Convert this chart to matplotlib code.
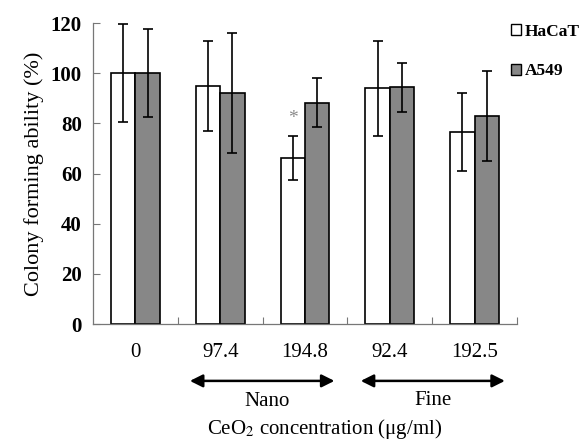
import matplotlib.pyplot as plt
from matplotlib.patches import Patch
import numpy as np

# colony forming ability
doses = ['0', '97.4', '194.8', '92.4', '192.5']
hacat = [100.0, 95.0, 66.3, 93.9, 76.6]
hacat_err = [19.5, 18.0, 8.7, 19.0, 15.5]
a549 = [100.0, 92.2, 88.2, 94.3, 83.0]
a549_err = [17.5, 24.0, 9.8, 9.7, 18.0]

plt.rcParams['font.family'] = 'Liberation Serif'
plt.rcParams['mathtext.fontset'] = 'stix'

fig = plt.figure(figsize=(5.86, 4.4), dpi=100)
ax = fig.add_axes([93/586., 1-324/440., 424/586., 301/440.])

x = np.arange(len(doses)) + 0.5
w = 0.288
ekw = dict(ecolor='k', elinewidth=1.2, capsize=3.5, capthick=1.2)
ax.bar(x - w/2, hacat, w, yerr=hacat_err, color='white', edgecolor='k', linewidth=1.2, error_kw=ekw, zorder=2)
ax.bar(x + w/2, a549, w, yerr=a549_err, color='#878787', edgecolor='k', linewidth=1.2, error_kw=ekw, zorder=2)

# significance mark
ax.text(x[2] - w/2, 82, '*', ha='center', va='center', fontsize=14, color='#8a8a8a')

ax.set_xlim(0, 5)
ax.set_ylim(0, 120)
ax.set_yticks(np.arange(0, 121, 20))
ax.set_yticklabels(['%d' % v for v in np.arange(0, 121, 20)], fontweight='bold', fontsize=15)
ax.set_xticks(x)
ax.set_xticklabels(doses, fontsize=15)
ax.set_xticks(np.arange(1, 6), minor=True)
ax.tick_params(axis='x', which='major', length=0, pad=14)
ax.tick_params(axis='x', which='minor', direction='in', length=5, color='#777777', width=0.8)
ax.tick_params(axis='y', direction='in', length=5, color='#777777', width=0.8, pad=8)
for s in ['top', 'right']:
  ax.spines[s].set_visible(False)
for s in ['left', 'bottom']:
  ax.spines[s].set_color('#777777')
  ax.spines[s].set_linewidth(0.9)
ax.set_ylabel('Colony forming ability (%)', fontsize=16, labelpad=5)

# group arrows under the ticks
trans = ('data', 'axes fraction')
aprops = dict(arrowstyle='<|-|>', color='k', lw=1.8, mutation_scale=19)
ax.annotate('', xy=(1.11, -0.189), xytext=(2.88, -0.189), xycoords=trans, textcoords=trans,
            arrowprops=aprops, annotation_clip=False)
ax.annotate('', xy=(3.125, -0.189), xytext=(4.89, -0.189), xycoords=trans, textcoords=trans,
            arrowprops=aprops, annotation_clip=False)
fig.text(267/586., 1-401/440., 'Nano', ha='center', va='center', fontsize=15)
fig.text(433/586., 1-400/440., 'Fine', ha='center', va='center', fontsize=15)
fig.text(325/586., 1-429/440., 'CeO$_2$ concentration (\u03bcg/ml)', ha='center', va='center', fontsize=15)

handles = [Patch(facecolor='white', edgecolor='k', linewidth=1.0),
           Patch(facecolor='#878787', edgecolor='k', linewidth=1.0)]
fig.legend(handles, ['HaCaT', 'A549'], loc='upper left', bbox_to_anchor=(511/586., 1-24/440.),
           frameon=False, handlelength=0.6, handleheight=0.6, handletextpad=0.2, labelspacing=1.35,
           prop={'weight': 'bold', 'size': 12.5}, borderaxespad=0, borderpad=0)

fig.savefig('out.png', dpi=100)
